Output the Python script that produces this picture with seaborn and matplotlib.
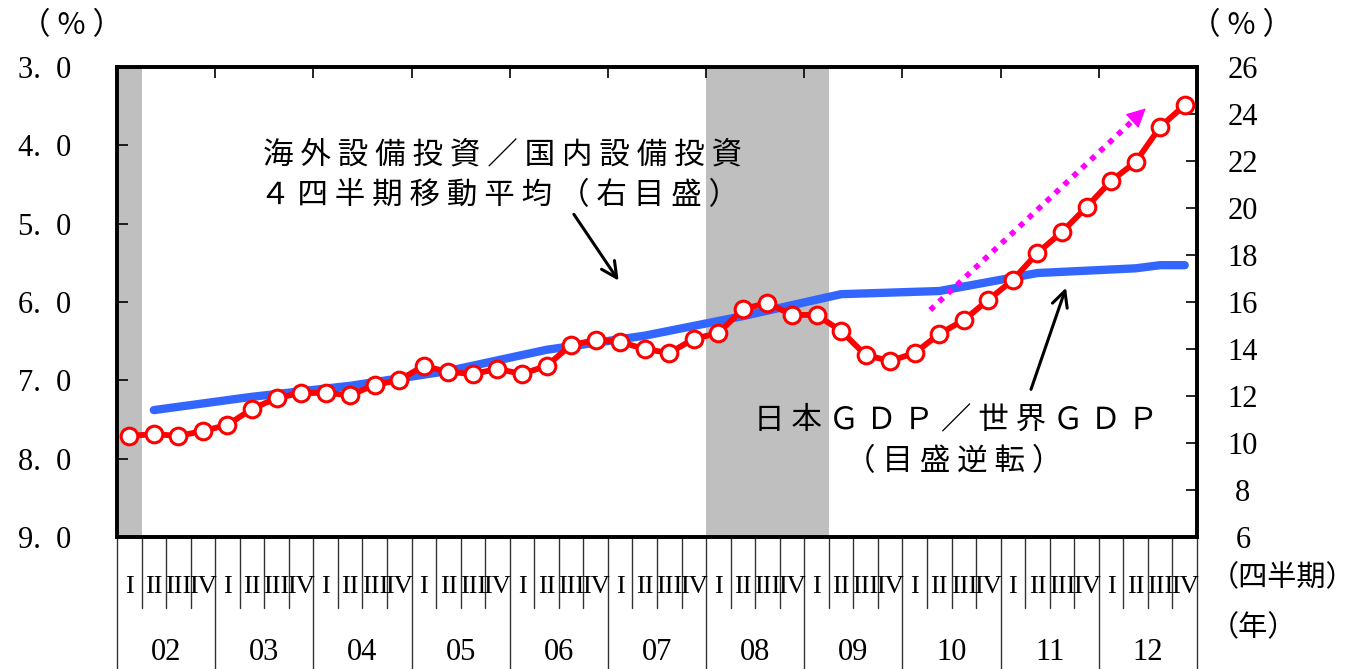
import matplotlib
matplotlib.use("Agg")
import matplotlib.pyplot as plt
import seaborn as sns
import pandas as pd
from matplotlib.transforms import blended_transform_factory

# ---- data -------------------------------------------------------------
years = ["02", "03", "04", "05", "06", "07", "08", "09", "10", "11", "12"]
quarter_names = ["I", "II", "III", "IV"]

# overseas capex / domestic capex, 4-quarter moving average (%), right axis
capex_ratio = [
    10.30, 10.38, 10.30, 10.51,   # 2002
    10.77, 11.45, 11.91, 12.13,   # 2003
    12.13, 12.04, 12.47, 12.68,   # 2004
    13.28, 13.02, 12.94, 13.15,   # 2005
    12.94, 13.28, 14.17, 14.38,   # 2006
    14.30, 14.00, 13.83, 14.43,   # 2007
    14.68, 15.70, 15.96, 15.45,   # 2008
    15.45, 14.77, 13.74, 13.49,   # 2009
    13.83, 14.64, 15.23, 16.09,   # 2010
    16.94, 18.09, 18.98, 20.04,   # 2011
    21.15, 21.96, 23.45, 24.38,   # 2012
]

# Japan GDP / world GDP (%), left axis (inverted)
gdp_periods = ["02Q2", "03Q2", "04Q2", "05Q2", "06Q2", "07Q2", "08Q2",
               "09Q2", "10Q2", "11Q2", "12Q2", "12Q3", "12Q4"]
gdp_share = [7.38, 7.21, 7.07, 6.88, 6.61, 6.43, 6.18,
             5.90, 5.86, 5.63, 5.57, 5.53, 5.53]

# shaded periods (start, end quarter)
shaded = [("02Q1", "02Q1"), ("08Q1", "09Q1")]

left_ticks = [3.0, 4.0, 5.0, 6.0, 7.0, 8.0, 9.0]
right_ticks = [6, 8, 10, 12, 14, 16, 18, 20, 22, 24, 26]


def qidx(p):
    """Quarter label like '08Q1' -> position on the quarterly axis."""
    return (int(p[:2]) - 2) * 4 + int(p[3]) - 1


def spaced(s):
    """Loosen the character pitch of a label."""
    return " ".join(s)


n_q = len(years) * 4
ratio_df = pd.DataFrame({"q": range(n_q), "ratio": capex_ratio})
gdp_df = pd.DataFrame({"q": [qidx(p) for p in gdp_periods], "share": gdp_share})

# ---- style ------------------------------------------------------------
sns.set_theme(style="white")
plt.rcParams["font.family"] = ["Noto Sans CJK JP", "DejaVu Sans"]
SERIF = ["Liberation Serif", "DejaVu Serif"]

fig = plt.figure(figsize=(13.55, 6.69), dpi=100)
ax = fig.add_axes([117 / 1355, 1 - 537 / 669, 1080 / 1355, 470 / 669])
ax2 = ax.twinx()

# shaded bands
for s, e in shaded:
    ax.axvspan(qidx(s) - 0.5, qidx(e) + 0.5, color="#bfbfbf", lw=0, zorder=0)

# Japan share of world GDP (left, inverted)
sns.lineplot(data=gdp_df, x="q", y="share", ax=ax, color="#3366ff",
             lw=6, solid_capstyle="round", zorder=3)
ax.set_ylim(9.0, 3.0)
ax.set_xlim(-0.5, n_q - 0.5)

# overseas/domestic capex ratio (right)
sns.lineplot(data=ratio_df, x="q", y="ratio", ax=ax2, color="#ff0000",
             lw=4.2, marker="o", markersize=12, markerfacecolor="white",
             markeredgecolor="#ff0000", markeredgewidth=2.2, zorder=4)
ax2.set_ylim(6, 26)
ax2.set_xlim(-0.5, n_q - 0.5)

for a in (ax, ax2):
    a.set_xlabel("")
    a.set_ylabel("")
    for sp in a.spines.values():
        sp.set_visible(True)
        sp.set_color("black")
        sp.set_linewidth(2.6)

# y ticks
ax.set_yticks(left_ticks)
ax.set_yticklabels([f"{v:.1f}".replace(".", ".  ") for v in left_ticks],
                   family=SERIF, fontsize=22)
ax.tick_params(axis="y", direction="in", length=8, width=1.2, pad=33,
               left=True, colors="black")
ax2.set_yticks(right_ticks)
ax2.set_yticklabels([str(v) for v in right_ticks], family=SERIF, fontsize=22)
ax2.tick_params(axis="y", direction="in", length=8, width=1.2, pad=33,
                right=True, colors="black")
for lab in ax2.get_yticklabels():
    lab.set_horizontalalignment("center")

# top ticks at year boundaries, no bottom tick labels
ax.set_xticks([4 * i - 0.5 for i in range(1, len(years))])
ax.tick_params(axis="x", direction="in", top=True, bottom=False,
               labelbottom=False, length=8, width=1.2, colors="black")
ax2.tick_params(axis="x", top=False, bottom=False, labelbottom=False)

# quarter / year table under the plot
tr = blended_transform_factory(ax.transData, ax.transAxes)
for i in range(n_q + 1):
    x = i - 0.5
    bottom = -0.283 if i % 4 == 0 else -0.150
    ax.plot([x, x], [0, bottom], transform=tr, color="#333333", lw=1.0,
            clip_on=False)
for i in range(n_q):
    ax.text(i, -0.106, quarter_names[i % 4], transform=tr, ha="center",
            va="center", family=SERIF, fontsize=19, color="black")
for k, y in enumerate(years):
    ax.text(4 * k + 1.5, -0.245, y, transform=tr, ha="center", va="center",
            family=SERIF, fontsize=22, color="black")

fig.text(1210 / 1355, 1 - 578 / 669, "（四半期）", ha="left", va="center",
         fontsize=21, color="black")
fig.text(1210 / 1355, 1 - 628 / 669, "（年）", ha="left", va="center",
         fontsize=21, color="black")
fig.text(71 / 1355, 1 - 26 / 669, "（ % ）", ha="center", va="center",
         fontsize=22, color="black")
fig.text(1241 / 1355, 1 - 26 / 669, "（ % ）", ha="center", va="center",
         fontsize=22, color="black")

# annotations
txt = dict(ha="center", va="center", fontsize=22, color="black", zorder=6)
ax2.text(15.2, 22.26, spaced("海外設備投資／国内設備投資"), **txt)
ax2.text(15.1, 20.55, spaced("４四半期移動平均（右目盛）"), **txt)
ax2.text(33.7, 10.98, spaced("日本ＧＤＰ／世界ＧＤＰ"), **txt)
ax2.text(33.6, 9.19, spaced("（目盛逆転）"), **txt)

arrow = dict(arrowstyle="->", color="black", lw=2.2, mutation_scale=28)
ax2.annotate("", xy=(20.0, 16.81), xytext=(18.05, 19.83), arrowprops=arrow)
ax2.annotate("", xy=(38.2, 16.72), xytext=(36.7, 12.17), arrowprops=arrow)

# trend arrow
ax2.plot([32.63, 41.1], [15.66, 23.93], color="#ff00ff", lw=4,
         linestyle=(0, (1, 1.2)), zorder=5)
ax2.annotate("", xy=(41.5, 24.32), xytext=(40.9, 23.74),
             arrowprops=dict(arrowstyle="-|>", color="#ff00ff", lw=1,
                             mutation_scale=30), zorder=5)

fig.savefig("out.png", dpi=100)
